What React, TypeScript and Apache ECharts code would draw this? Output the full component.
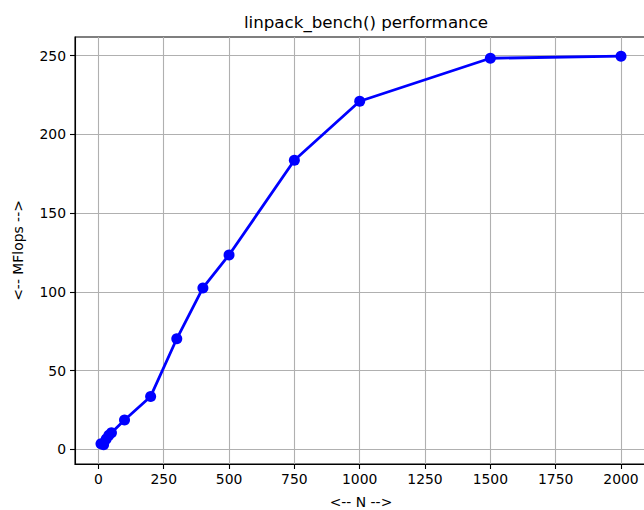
import React, { useEffect, useRef } from "react";
import * as echarts from "echarts";

const nValues = [10, 20, 30, 40, 50, 100, 200, 300, 400, 500, 750, 1000, 1500, 2000];
const mflops = [3.5, 3.0, 6.5, 9.0, 10.5, 18.6, 33.6, 70.2, 102.5, 123.4, 183.5, 221.0, 248.3, 249.6];
const xTicks = [0, 250, 500, 750, 1000, 1250, 1500, 1750, 2000];
const yTicks = [0, 50, 100, 150, 200, 250];

const FONT = "DejaVu Sans";

export default function App() {
  const ref = useRef<HTMLDivElement>(null);
  useEffect(() => {
    document.body.style.margin = "0";
    document.body.style.overflow = "hidden";
    const chart = echarts.init(ref.current!, null, { renderer: "svg" });
    const data = nValues.map((n, i) => [n, mflops[i]]);
    chart.setOption({
      animation: false,
      backgroundColor: "#ffffff",
      title: {
        text: "linpack_bench() performance",
        left: 361,
        textAlign: "center",
        top: 8,
        textStyle: { fontFamily: FONT, fontSize: 16.7, fontWeight: "normal", color: "#000" },
      },
      grid: {
        left: 75,
        top: 37,
        right: -3,
        bottom: 46,
        containLabel: false,
        outerBoundsMode: "none",
        show: true,
        borderColor: "#000",
        borderWidth: 1.1,
        backgroundColor: "transparent",
      },
      xAxis: {
        type: "value",
        min: -89.5,
        max: 2099.5,
        name: "<-- N -->",
        nameLocation: "middle",
        nameGap: 31,
        nameTextStyle: { fontFamily: FONT, fontSize: 13.9, color: "#000" },
        axisLine: { show: true, onZero: false, lineStyle: { color: "#000", width: 1.1 } },
        axisTick: { show: true, length: 5, lineStyle: { color: "#000", width: 1.1 }, customValues: xTicks },
        axisLabel: {
          customValues: xTicks,
          formatter: (v: number) => String(v),
          fontFamily: FONT,
          fontSize: 13.9,
          color: "#000",
          margin: 8,
          showMinLabel: true,
          showMaxLabel: true,
        },
        splitLine: { show: true, lineStyle: { color: "#b0b0b0", width: 1.1 } },
      },
      yAxis: {
        type: "value",
        min: -9.3,
        max: 261.8,
        name: "<-- MFlops -->",
        nameLocation: "middle",
        nameGap: 50,
        nameTextStyle: { fontFamily: FONT, fontSize: 13.9, color: "#000" },
        axisLine: { show: true, onZero: false, lineStyle: { color: "#000", width: 1.1 } },
        axisTick: { show: true, length: 5, lineStyle: { color: "#000", width: 1.1 }, customValues: yTicks },
        axisLabel: {
          customValues: yTicks,
          formatter: (v: number) => String(v),
          fontFamily: FONT,
          fontSize: 13.9,
          color: "#000",
          margin: 9,
        },
        splitLine: { show: true, lineStyle: { color: "#b0b0b0", width: 1.1 } },
      },
      series: [
        {
          type: "line",
          data,
          color: "#0000ff",
          lineStyle: { color: "#0000ff", width: 2.8 },
          itemStyle: { color: "#0000ff" },
          symbol: "circle",
          symbolSize: 11,
          showSymbol: true,
          clip: false,
        },
      ],
    });
    return () => chart.dispose();
  }, []);
  return <div ref={ref} style={{ width: 644, height: 510 }} />;
}
